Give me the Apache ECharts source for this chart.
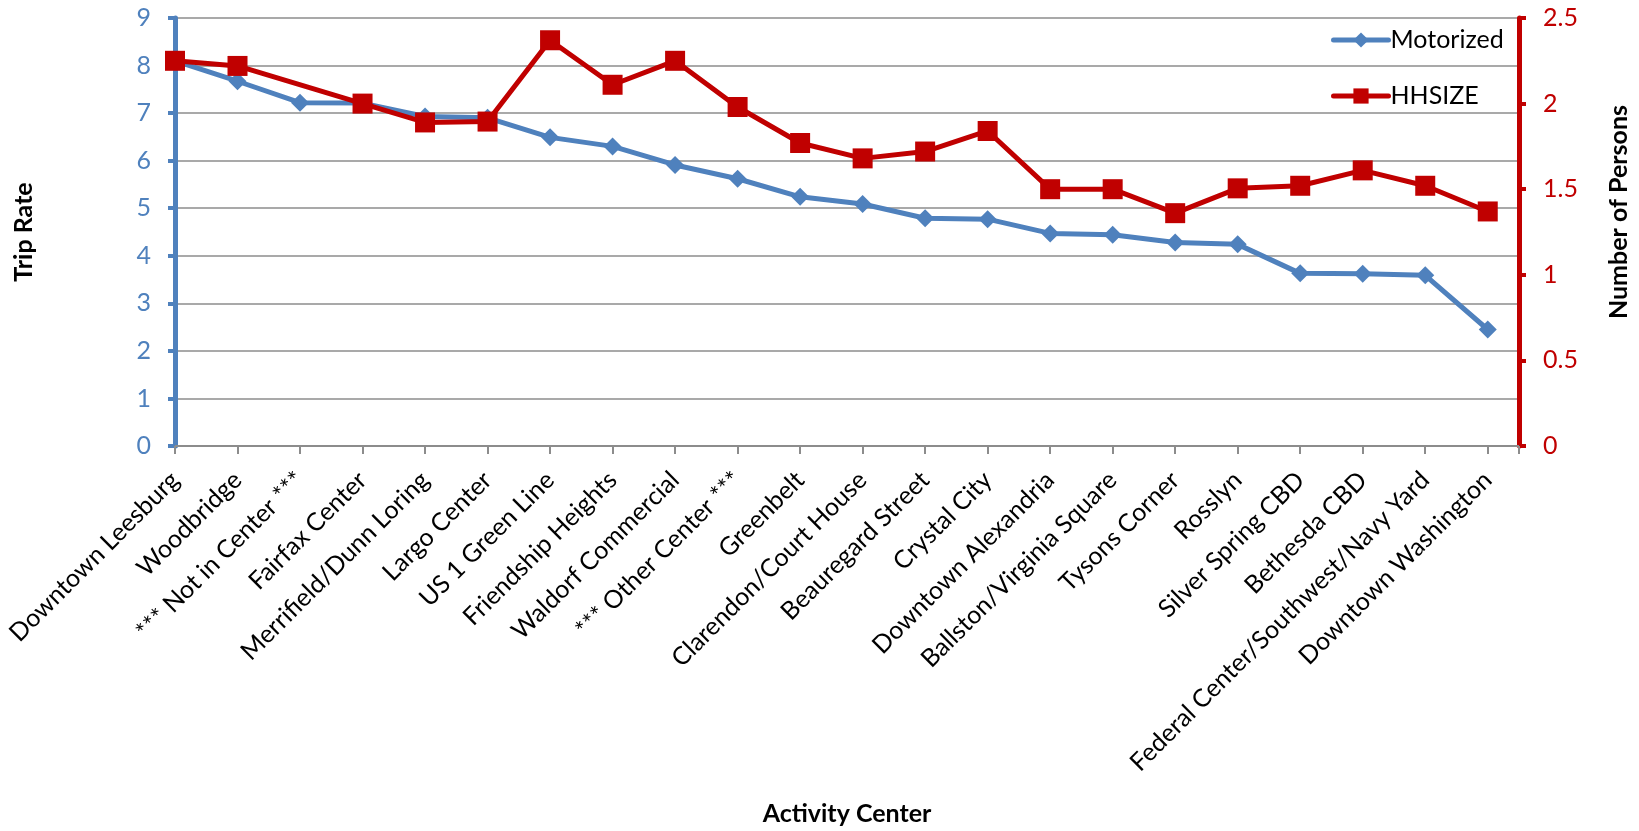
<!DOCTYPE html>
<html>
<head>
<meta charset="utf-8">
<title>Trip Rate and Household Size by Activity Center</title>
<script src="https://cdn.jsdelivr.net/npm/echarts@6/dist/echarts.min.js"></script>
<style>
  html, body { margin: 0; padding: 0; background: #ffffff; }
  #chart { width: 1639px; height: 831px; }
</style>
</head>
<body>
<div id="chart"></div>
<script>
// Activity centers, ordered by motorized trip rate
const categories = [
  'Downtown Leesburg', 'Woodbridge', '*** Not in Center ***', 'Fairfax Center',
  'Merrifield/Dunn Loring', 'Largo Center', 'US 1 Green Line', 'Friendship Heights',
  'Waldorf Commercial', '*** Other Center ***', 'Greenbelt', 'Clarendon/Court House',
  'Beauregard Street', 'Crystal City', 'Downtown Alexandria', 'Ballston/Virginia Square',
  'Tysons Corner', 'Rosslyn', 'Silver Spring CBD', 'Bethesda CBD',
  'Federal Center/Southwest/Navy Yard', 'Downtown Washington'
];

// Motorized trip rate (left axis)
const motorized = [
  8.10, 7.67, 7.22, 7.21, 6.93, 6.90, 6.49, 6.30, 5.91, 5.62, 5.24,
  5.09, 4.79, 4.77, 4.47, 4.44, 4.28, 4.24, 3.63, 3.62, 3.59, 2.45
];

// Household size, persons (right axis); no value for "Not in Center"
const hhsize = [
  2.25, 2.22, null, 2.00, 1.89, 1.895, 2.37, 2.11, 2.25, 1.98, 1.77,
  1.68, 1.72, 1.84, 1.50, 1.50, 1.36, 1.505, 1.52, 1.61, 1.52, 1.37
];

const tripRateTicks = { min: 0, max: 9, interval: 1 };
const personsTicks = { min: 0, max: 2.5, interval: 0.5 };

const BLUE = '#4F81BD';
const RED = '#C00000';
const GRID = '#8c8c8c';
const FONT = 'Lato, "Open Sans", sans-serif';
const FS = 25;

const chart = echarts.init(document.getElementById('chart'), null, { renderer: 'canvas' });

const option = {
  backgroundColor: '#ffffff',
  animation: false,
  textStyle: { fontFamily: FONT },
  grid: { left: 175, right: 120, top: 18, bottom: 385, containLabel: false },
  legend: {
    orient: 'vertical',
    left: 1331,
    top: 27,
    padding: 0,
    itemWidth: 55,
    itemHeight: 19,
    itemGap: 30,
    lineStyle: { width: 5, cap: 'round' },
    textStyle: { fontFamily: FONT, fontSize: FS, color: '#000', lineHeight: 26, padding: [0, 0, 0, -3] },
    data: ['Motorized', 'HHSIZE']
  },
  xAxis: {
    type: 'value',
    min: 0,
    max: categories.length - 0.5,
    interval: 1,
    splitLine: { show: false },
    axisLine: { show: true, onZero: false, lineStyle: { color: GRID, width: 2 } },
    axisTick: { show: true, length: 8, lineStyle: { color: GRID, width: 2 } },
    axisLabel: {
      rotate: 45,
      margin: 30,
      fontSize: FS,
      color: '#000',
      fontFamily: FONT,
      showMinLabel: true,
      showMaxLabel: true,
      formatter: function (v) {
        return Number.isInteger(v) && categories[v] !== undefined ? categories[v] : '';
      }
    }
  },
  yAxis: [
    {
      type: 'value',
      position: 'left',
      min: tripRateTicks.min,
      max: tripRateTicks.max,
      interval: tripRateTicks.interval,
      axisLine: { show: true, lineStyle: { color: BLUE, width: 5 } },
      axisTick: { show: true, length: 7, lineStyle: { color: BLUE, width: 4 } },
      axisLabel: { margin: 24, fontSize: FS, color: BLUE, fontFamily: FONT },
      splitLine: { show: true, lineStyle: { color: GRID, width: 1.6 } }
    },
    {
      type: 'value',
      position: 'right',
      min: personsTicks.min,
      max: personsTicks.max,
      interval: personsTicks.interval,
      axisLine: { show: true, lineStyle: { color: RED, width: 5 } },
      axisTick: { show: true, length: 7, lineStyle: { color: RED, width: 4 } },
      axisLabel: { margin: 24, fontSize: FS, color: RED, fontFamily: FONT },
      splitLine: { show: false }
    }
  ],
  series: [
    {
      name: 'Motorized',
      type: 'line',
      yAxisIndex: 0,
      data: motorized.map((v, i) => [i, v]),
      symbol: 'diamond',
      symbolSize: 18,
      color: BLUE,
      lineStyle: { color: BLUE, width: 5 },
      itemStyle: { color: BLUE },
      z: 3
    },
    {
      name: 'HHSIZE',
      type: 'line',
      yAxisIndex: 1,
      data: hhsize.map((v, i) => [i, v]),
      connectNulls: true,
      symbol: 'rect',
      symbolSize: 20,
      color: RED,
      lineStyle: { color: RED, width: 5 },
      itemStyle: { color: RED },
      z: 4
    }
  ],
  graphic: [
    {
      type: 'text',
      x: 24, y: 232,
      rotation: Math.PI / 2,
      style: {
        text: 'Trip Rate', fontFamily: FONT, fontSize: FS, fontWeight: 'bold',
        fill: '#000', align: 'center', verticalAlign: 'middle'
      }
    },
    {
      type: 'text',
      x: 1619, y: 212,
      rotation: Math.PI / 2,
      style: {
        text: 'Number of Persons', fontFamily: FONT, fontSize: FS, fontWeight: 'bold',
        fill: '#000', align: 'center', verticalAlign: 'middle'
      }
    },
    {
      type: 'text',
      x: 847, y: 814,
      style: {
        text: 'Activity Center', fontFamily: FONT, fontSize: FS, fontWeight: 'bold',
        fill: '#000', align: 'center', verticalAlign: 'middle'
      }
    }
  ]
};

chart.setOption(option);
</script>
</body>
</html>
